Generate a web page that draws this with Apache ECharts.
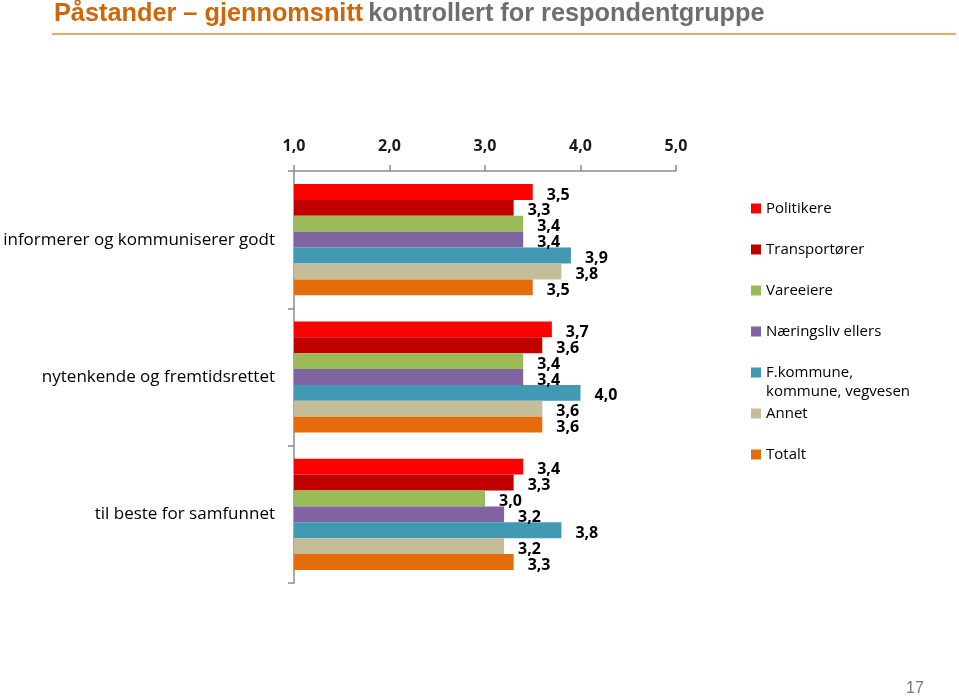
<!DOCTYPE html>
<html><head><meta charset="utf-8">
<script src="https://cdn.jsdelivr.net/npm/echarts@6/dist/echarts.min.js"></script>
<style>html,body{margin:0;padding:0;background:#fff}#c{width:959px;height:700px}</style>
</head><body><div id="c"></div>
<script>
const categories = ['informerer og kommuniserer godt', 'nytenkende og fremtidsrettet', 'til beste for samfunnet'];
const seriesNames = ['Politikere', 'Transportører', 'Vareeiere', 'Næringsliv ellers', 'F.kommune, kommune, vegvesen', 'Annet', 'Totalt'];
const politikere = [3.5, 3.7, 3.4];
const transportorer = [3.3, 3.6, 3.3];
const vareeiere = [3.4, 3.4, 3.0];
const naeringsliv = [3.4, 3.4, 3.2];
const fkommune = [3.9, 4.0, 3.8];
const annet = [3.8, 3.6, 3.2];
const totalt = [3.5, 3.6, 3.3];
const colors = ['#FF0000', '#C00000', '#9BBB59', '#8064A2', '#4299B3', '#C4BD97', '#E46C0A'];
const xTicks = [1, 2, 3, 4, 5];

const seriesData = [politikere, transportorer, vareeiere, naeringsliv, fkommune, annet, totalt];
const fmt = v => v.toFixed(1).replace('.', ',');
const FONT = '"Open Sans", "Noto Sans", sans-serif';

const legendTops = [201, 242, 283, 324, 365, 406, 447];
const legends = seriesNames.map((n, i) => {
  const l = {
    data: [n], left: 751, top: legendTops[i], orient: 'vertical',
    itemWidth: 10, itemHeight: 10, icon: 'rect', padding: 0, selectedMode: false,
    textStyle: { fontFamily: FONT, fontSize: 15, color: '#000' }
  };
  if (i === 4) {
    l.formatter = () => 'F.kommune,';
  }
  return l;
});

const chart = echarts.init(document.getElementById('c'), null, { renderer: 'canvas' });
chart.setOption({
  animation: false,
  backgroundColor: '#fff',
  title: {
    text: '{a|Påstander – gjennomsnitt} {b|kontrollert for respondentgruppe}',
    left: 54, top: 2, padding: 0,
    textStyle: {
      rich: {
        a: { fontFamily: '"Liberation Sans Narrow", "Arial Narrow", "Liberation Sans", sans-serif', fontSize: 25.3, fontWeight: 'bold', color: '#D0660A' },
        b: { fontFamily: '"Liberation Sans Narrow", "Arial Narrow", "Liberation Sans", sans-serif', fontSize: 25.3, fontWeight: 'bold', color: '#6E6E6E' }
      }
    }
  },
  graphic: [
    { type: 'line', shape: { x1: 52, y1: 34, x2: 956, y2: 34 }, style: { stroke: '#DE8C42', lineWidth: 1.5 } },
    { type: 'text', left: 766, top: 384, style: { text: 'kommune, vegvesen', font: '15px "Open Sans", "Noto Sans", sans-serif', fill: '#000' } },
    { type: 'text', left: 906, top: 681, style: { text: '17', font: '16px "Liberation Sans", sans-serif', fill: '#777' } }
  ],
  legend: legends,
  grid: { left: 294, right: 283, top: 171, bottom: 117, containLabel: false },
  xAxis: {
    type: 'value', position: 'top', min: 1, max: 5, interval: 1,
    axisLine: { show: true, lineStyle: { color: '#8c8c8c', width: 1.5 } },
    axisTick: { show: true, length: 6, lineStyle: { color: '#8c8c8c', width: 1.5 } },
    splitLine: { show: false },
    axisLabel: { margin: 17, formatter: v => fmt(v), fontFamily: FONT, fontSize: 16, fontWeight: 'bold', color: '#1a1a1a' }
  },
  yAxis: {
    type: 'category', data: categories, inverse: true,
    axisLine: { show: true, lineStyle: { color: '#8c8c8c', width: 1.5 } },
    axisTick: { show: true, length: 6, lineStyle: { color: '#8c8c8c', width: 1.5 } },
    axisLabel: { margin: 19, fontFamily: FONT, fontSize: 17, color: '#000' }
  },
  series: seriesNames.map((n, i) => ({
    name: n, type: 'bar', data: seriesData[i],
    itemStyle: { color: colors[i] },
    barCategoryGap: '19%', barGap: '0%',
    label: {
      show: true, position: 'right', distance: 14, offset: [0, 3],
      formatter: p => fmt(p.value),
      fontFamily: FONT, fontSize: 16, fontWeight: 'bold', color: '#000'
    }
  }))
});
</script></body></html>
